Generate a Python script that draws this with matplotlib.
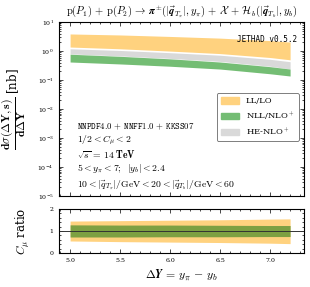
import matplotlib
matplotlib.use("Agg")
import matplotlib.pyplot as plt
from matplotlib.patches import Patch
from matplotlib.ticker import LogLocator, MultipleLocator, NullFormatter

plt.rcParams['mathtext.fontset'] = 'cm'
plt.rcParams['font.family'] = 'serif'
plt.rcParams['font.serif'] = ['DejaVu Serif']

# data
dy = [5.0, 5.5, 6.0, 6.5, 7.0, 7.2]
ll_hi = [3.9, 3.6, 3.2, 2.8, 2.3, 2.05]
ll_lo = [1.38, 1.2, 1.0, 0.82, 0.6, 0.5]
he_hi = [1.2, 1.05, 0.88, 0.72, 0.52, 0.43]
he_lo = [0.8, 0.68, 0.56, 0.44, 0.3, 0.24]
nll_hi = [0.78, 0.66, 0.54, 0.42, 0.29, 0.24]
nll_lo = [0.42, 0.36, 0.3, 0.24, 0.165, 0.138]

r_ll_hi = [1.45, 1.47, 1.49, 1.51, 1.54, 1.55]
r_ll_lo = [0.55, 0.52, 0.5, 0.48, 0.45, 0.43]
r_nll_hi = [1.28, 1.27, 1.27, 1.26, 1.25, 1.25]
r_nll_lo = [0.73, 0.73, 0.74, 0.74, 0.75, 0.75]

c_ll = '#ffd27f'
c_nll = '#74bd74'
c_he = '#d9d9d9'

fig = plt.figure(figsize=(3.1, 2.87), dpi=100)
ax1 = fig.add_axes([0.189, 0.317, 0.792, 0.606])
ax2 = fig.add_axes([0.189, 0.118, 0.792, 0.154])

ax1.fill_between(dy, ll_lo, ll_hi, color=c_ll, lw=0)
ax1.fill_between(dy, he_lo, he_hi, color=c_he, lw=0)
ax1.fill_between(dy, nll_lo, nll_hi, color=c_nll, lw=0)
ax1.set_yscale('log')
ax1.set_ylim(1e-5, 10)
ax1.set_xlim(4.885, 7.34)
ax1.yaxis.set_major_locator(LogLocator(base=10, numticks=10))
ax1.yaxis.set_minor_locator(LogLocator(base=10, subs=range(2, 10), numticks=10))
ax1.yaxis.set_minor_formatter(NullFormatter())
ax1.xaxis.set_major_locator(MultipleLocator(0.5))
ax1.xaxis.set_minor_locator(MultipleLocator(0.1))
ax1.set_xticklabels([])
ax1.set_ylabel(r'$\mathbf{\dfrac{d\sigma(\Delta Y, s)}{d\Delta Y}}$ [nb]', fontsize=8.5)
ax1.yaxis.set_label_coords(-0.125, 0.5)
ax1.set_title(r'$\mathrm{p}(\boldsymbol{P_1})\, +\, \mathrm{p}(\boldsymbol{P_2})\, \to\, \boldsymbol{\pi}^{\pm}(|\vec{\boldsymbol{q}}_{T_\pi}|, y_\pi)\, +\, \mathcal{X}\, +\, \mathcal{H}_b(|\vec{\boldsymbol{q}}_{T_b}|, y_b)$',
              fontsize=7.6, pad=5)

ax1.text(0.97, 0.9, 'JETHAD v0.5.2', transform=ax1.transAxes, ha='right', va='center',
         family='monospace', fontsize=5.5)

lines = [r'$\mathtt{NNPDF4.0}\,+\,\mathtt{NNFF1.0}\,+\,\mathtt{KKSS07}$',
         r'$1/2 < C_\mu < 2$',
         r'$\sqrt{s}\,=\,14\;\mathbf{TeV}$',
         r'$5 < y_\pi < 7;\;\; |y_b| < 2.4$',
         r'$10 < |\vec{q}_{T_\pi}|/\mathrm{GeV} < 20 < |\vec{q}_{T_b}|/\mathrm{GeV} < 60$']
ys = [0.40, 0.318, 0.238, 0.16, 0.065]
sizes = [6.3, 7.0, 7.0, 7.0, 7.0]
for t, y, s in zip(lines, ys, sizes):
    ax1.text(0.075, y, t, transform=ax1.transAxes, ha='left', va='center', fontsize=s)

handles = [Patch(color=c_ll, label='LL/LO'),
           Patch(color=c_nll, label=r'NLL/NLO$^+$'),
           Patch(color=c_he, label=r'HE-NLO$^+$')]
leg = ax1.legend(handles=handles, loc='upper right', bbox_to_anchor=(0.995, 0.615),
                 fontsize=6.0, frameon=True, fancybox=True, edgecolor='#444444',
                 handlelength=2.2, handleheight=0.8, handletextpad=0.8,
                 labelspacing=0.45, borderpad=0.5)
leg.get_frame().set_linewidth(0.6)

ax2.fill_between(dy, r_ll_lo, r_ll_hi, color=c_ll, lw=0)
ax2.fill_between(dy, r_nll_lo, r_nll_hi, color='#6f9b3c', alpha=0.9, lw=0)
ax2.axhline(1.0, color='#333333', lw=0.7)
ax2.set_xlim(4.885, 7.34)
ax2.set_ylim(0, 2)
ax2.set_yticks([0, 1, 2])
ax2.yaxis.set_minor_locator(MultipleLocator(0.2))
ax2.xaxis.set_major_locator(MultipleLocator(0.5))
ax2.xaxis.set_minor_locator(MultipleLocator(0.1))
ax2.set_ylabel(r'$C_\mu$ ratio', fontsize=8.5)
ax2.yaxis.set_label_coords(-0.11, 0.5)
ax2.set_xlabel(r'$\mathbf{\Delta}\boldsymbol{Y}\, =\, \boldsymbol{y_\pi}\, -\, \boldsymbol{y_b}$', fontsize=8.5, labelpad=3)

for ax in (ax1, ax2):
    ax.tick_params(which='both', direction='in', top=True, right=True, labelsize=4.5, width=0.5)
    ax.tick_params(which='major', length=3)
    ax.tick_params(which='minor', length=1.5)
    for s in ax.spines.values():
        s.set_linewidth(0.8)

fig.savefig('out.png', dpi=100)
